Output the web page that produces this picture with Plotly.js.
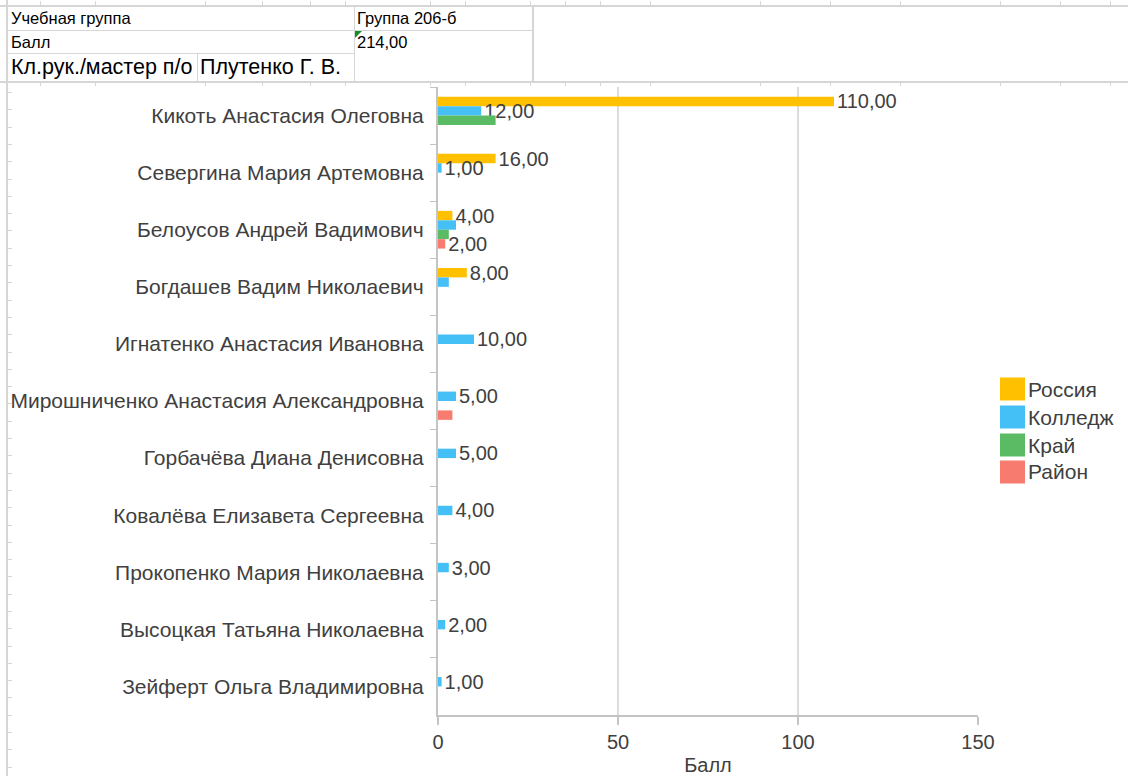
<!DOCTYPE html>
<html>
<head>
<meta charset="utf-8">
<script src="https://cdn.plot.ly/plotly-3.0.1.min.js"></script>
<style>
  html, body { margin:0; padding:0; background:#fff; }
  #wrap { position:relative; width:1128px; height:776px; overflow:hidden; font-family:"Liberation Sans", Arial, sans-serif; }
  #chart { position:absolute; left:0; top:0; width:1128px; height:776px; }
  .ln { position:absolute; background:#d6d6d6; }
  .cell { position:absolute; color:#000; white-space:nowrap; }
</style>
</head>
<body>
<div id="wrap">
  <div id="chart"></div>
  <!-- spreadsheet frame -->
  <div class="ln" style="left:0;top:5px;width:1128px;height:2px;"></div>
  <div class="ln" style="left:0;top:81px;width:1128px;height:2px;"></div>
  <div class="ln" style="left:6px;top:0;width:2px;height:776px;"></div>
  <div class="ln" style="left:8px;top:30px;width:526px;height:1px;"></div>
  <div class="ln" style="left:8px;top:53px;width:347px;height:1px;"></div>
  <div class="ln" style="left:354px;top:6px;width:1px;height:76px;"></div>
  <div class="ln" style="left:532px;top:6px;width:2px;height:76px;"></div>
  <div class="ln" style="left:197px;top:53px;width:1px;height:29px;"></div>
  <div id="ticks"></div>
  <div class="cell" style="left:11px;top:9px;font-size:16.5px;">Учебная группа</div>
  <div class="cell" style="left:357px;top:9px;font-size:16.5px;">Группа 206-б</div>
  <div class="cell" style="left:11px;top:33px;font-size:16.5px;">Балл</div>
  <div class="cell" style="left:357px;top:33px;font-size:16.5px;">214,00</div>
  <div style="position:absolute;left:355px;top:31px;width:0;height:0;border-top:7px solid #1a8a2a;border-right:7px solid transparent;"></div>
  <div class="cell" style="left:11px;top:55px;font-size:21.5px;">Кл.рук./мастер п/о</div>
  <div class="cell" style="left:200px;top:55px;font-size:21.5px;">Плутенко Г. В.</div>
</div>
<script>
const categories = [
  "Кикоть Анастасия Олеговна",
  "Севергина Мария Артемовна",
  "Белоусов Андрей Вадимович",
  "Богдашев Вадим Николаевич",
  "Игнатенко Анастасия Ивановна",
  "Мирошниченко Анастасия Александровна",
  "Горбачёва Диана Денисовна",
  "Ковалёва Елизавета Сергеевна",
  "Прокопенко Мария Николаевна",
  "Высоцкая Татьяна Николаевна",
  "Зейферт Ольга Владимировна"
];
const seriesNames = ["Россия", "Колледж", "Край", "Район"];
const seriesColors = ["#FFC000", "#45C0F7", "#5BBB64", "#F77B6E"];
const russia  = [110, 16, 4, 8, 0, 0, 0, 0, 0, 0, 0];
const college = [12, 1, 5, 3, 10, 5, 5, 4, 3, 2, 1];
const krai    = [16, 0, 3, 0, 0, 0, 0, 0, 0, 0, 0];
const raion   = [0, 0, 2, 0, 0, 4, 0, 0, 0, 0, 0];
// which value labels are visible in the original (1 = shown)
const russiaLabelShown  = [1, 1, 1, 1, 0, 0, 0, 0, 0, 0, 0];
const collegeLabelShown = [1, 1, 0, 0, 1, 1, 1, 1, 1, 1, 1];
const kraiLabelShown    = [0, 0, 0, 0, 0, 0, 0, 0, 0, 0, 0];
const raionLabelShown   = [0, 0, 1, 0, 0, 0, 0, 0, 0, 0, 0];
const xTicks = [0, 50, 100, 150];
const axisTitle = "Балл";

// spreadsheet row marks on the left border
(function(){
  const t = document.getElementById('ticks');
  let h = '';
  for (let y = 92; y < 776; y += 17.3) h += '<div class="ln" style="left:8px;top:'+Math.round(y)+'px;width:4px;height:1px;"></div>';
  const xs = [40, 95, 205, 262, 310, 345, 430, 465, 530, 565, 600, 650, 760, 830, 900, 1000, 1060, 1110];
  xs.forEach(x => { h += '<div class="ln" style="left:'+x+'px;top:82px;width:1px;height:4px;"></div>'; h += '<div class="ln" style="left:'+x+'px;top:1px;width:1px;height:4px;"></div>'; });
  t.innerHTML = h;
})();

const FONT = 'Liberation Sans, Arial, sans-serif';
const fmt = v => v.toFixed(2).replace('.', ',');
const allVals = [russia, college, krai, raion];
const allShown = [russiaLabelShown, collegeLabelShown, kraiLabelShown, raionLabelShown];

const traces = allVals.map((vals, i) => ({
  type: 'bar',
  orientation: 'h',
  name: seriesNames[i],
  y: categories,
  x: vals,
  marker: { color: seriesColors[i] },
  text: vals.map((v, j) => (allShown[i][j] && v) ? fmt(v) : ''),
  textposition: 'outside',
  constraintext: 'none',
  cliponaxis: false,
  textfont: { family: FONT, size: 20, color: '#404040' },
  hoverinfo: 'x+y+name'
}));

const shapes = [];
const annotations = [];
const legY = [389, 417, 445, 472];
const px2x = x => (x - 438) / 540;
const px2y = y => (715 - y) / 628;
seriesNames.forEach((n, i) => {
  shapes.push({ type: 'rect', xref: 'paper', yref: 'paper',
    x0: px2x(1000), x1: px2x(1025), y0: px2y(legY[i] - 11.5), y1: px2y(legY[i] + 11.5),
    fillcolor: seriesColors[i], line: { width: 0 } });
  annotations.push({ xref: 'paper', yref: 'paper', x: px2x(1026), y: px2y(legY[i]),
    xanchor: 'left', yanchor: 'middle', showarrow: false, text: n,
    font: { family: FONT, size: 21, color: '#404040' } });
});

const layout = {
  width: 1128, height: 776,
  margin: { l: 438, r: 150, t: 87, b: 61, pad: 0 },
  paper_bgcolor: 'rgba(0,0,0,0)', plot_bgcolor: '#fff',
  barmode: 'group', bargap: 0.34, bargroupgap: 0,
  showlegend: false,
  font: { family: FONT, color: '#404040' },
  xaxis: {
    range: [0, 150], tickvals: xTicks, ticktext: xTicks.map(String),
    showgrid: true, gridcolor: '#dcdcdc', gridwidth: 2,
    showline: true, linecolor: '#c4c4c4', linewidth: 2,
    ticks: 'outside', ticklen: 8, tickcolor: '#c4c4c4', tickwidth: 2,
    zeroline: false,
    tickfont: { size: 20, color: '#404040' },
    title: { text: axisTitle, font: { size: 20, color: '#404040' }, standoff: 8 }
  },
  yaxis: {
    type: 'category', autorange: 'reversed',
    showline: true, linecolor: '#c4c4c4', linewidth: 2,
    ticks: 'outside', tickson: 'boundaries', ticklen: 6, tickcolor: '#c4c4c4', tickwidth: 1,
    showgrid: false, ticklabelstandoff: 8,
    tickfont: { size: 21, color: '#404040' }
  },
  shapes: shapes,
  annotations: annotations
};

Plotly.newPlot('chart', traces, layout, { displayModeBar: false, staticPlot: true });
</script>
</body>
</html>
